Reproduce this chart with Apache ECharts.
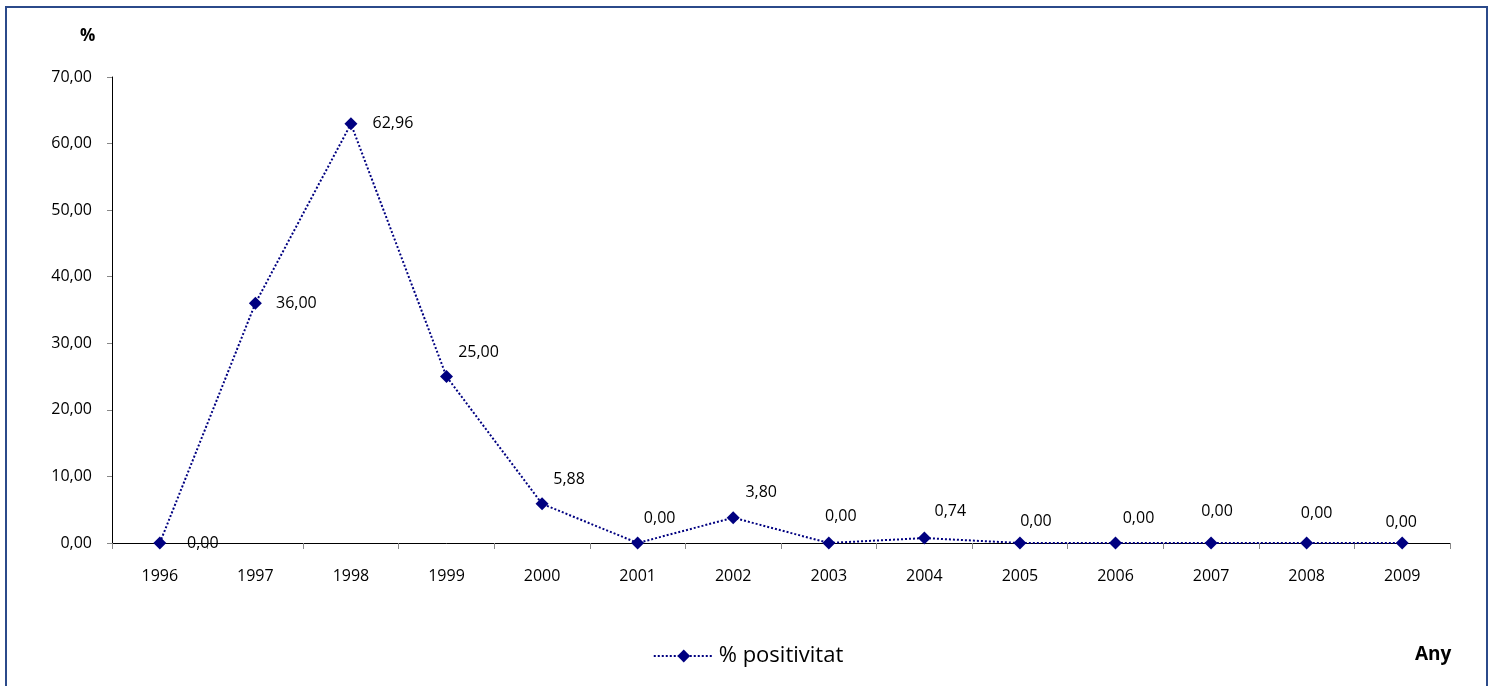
<!DOCTYPE html>
<html>
<head>
<meta charset="utf-8">
<script src="https://cdn.jsdelivr.net/npm/echarts@6/dist/echarts.min.js"></script>
<style>
  html, body { margin: 0; padding: 0; background: #fff; }
  #chart { width: 1496px; height: 686px; }
</style>
</head>
<body>
<div id="chart"></div>
<script>
// data
const years = ['1996', '1997', '1998', '1999', '2000', '2001', '2002', '2003', '2004', '2005', '2006', '2007', '2008', '2009']
const positivitat = [0, 36.00, 62.96, 25.00, 5.88, 0, 3.80, 0, 0.74, 0, 0, 0, 0, 0]
const yTicks = [0, 10, 20, 30, 40, 50, 60, 70]

// where each data label sits relative to its point (px)
const labelOffsets = [[43, 0], [41, 0], [42, 0], [32, -24], [27, -24], [22, -25], [28, -25],
  [12, -27], [26, -27], [16, -22], [23, -25], [6, -32], [10, -30], [-1, -21]]

const font = '"Open Sans", "Noto Sans", sans-serif'
const fmt = v => v.toFixed(2).replace('.', ',')

const myChart = echarts.init(document.getElementById('chart'))

const option = {
  animation: false,
  textStyle: { fontFamily: font },
  graphic: [
    {
      type: 'rect',
      shape: { x: 6, y: 7, width: 1481, height: 690 },
      style: { fill: 'none', stroke: '#2B4A8A', lineWidth: 2 },
      silent: true
    },
    {
      type: 'text', left: 80, top: 28,
      style: { text: '%', font: 'bold 17px ' + font, fill: '#000' }
    },
    {
      type: 'text', left: 1415, top: 645,
      style: { text: 'Any', font: 'bold 19px ' + font, fill: '#000' }
    }
  ],
  grid: {
    left: 112,
    right: 46,
    top: 77,
    bottom: 143
  },
  legend: {
    bottom: 14,
    left: 'center',
    itemWidth: 60,
    itemHeight: 16,
    itemGap: 8,
    textStyle: { fontSize: 22, color: '#000', fontFamily: font },
    data: ['% positivitat']
  },
  xAxis: {
    type: 'category',
    data: years,
    boundaryGap: true,
    axisLine: { lineStyle: { color: '#000', width: 1 } },
    axisTick: { show: true, length: 6, lineStyle: { color: '#888' } },
    axisLabel: { color: '#000', fontSize: 16, margin: 25 }
  },
  yAxis: {
    type: 'value',
    min: yTicks[0],
    max: yTicks[yTicks.length - 1],
    interval: 10,
    splitLine: { show: false },
    axisLine: { show: true, lineStyle: { color: '#000', width: 1 } },
    axisTick: { show: true, length: 5, lineStyle: { color: '#888' } },
    axisLabel: { color: '#000', fontSize: 16, margin: 20, formatter: fmt }
  },
  series: [{
    name: '% positivitat',
    type: 'line',
    data: positivitat.map((v, i) => ({
      value: v,
      label: { offset: labelOffsets[i] }
    })),
    symbol: 'diamond',
    symbolSize: 13,
    color: '#000080',
    lineStyle: { color: '#000080', width: 2, type: 'dotted' },
    itemStyle: { color: '#000080' },
    label: {
      show: true,
      position: 'inside',
      color: '#000',
      fontSize: 16,
      fontFamily: font,
      formatter: p => fmt(p.value)
    }
  }]
}

myChart.setOption(option)
</script>
</body>
</html>
